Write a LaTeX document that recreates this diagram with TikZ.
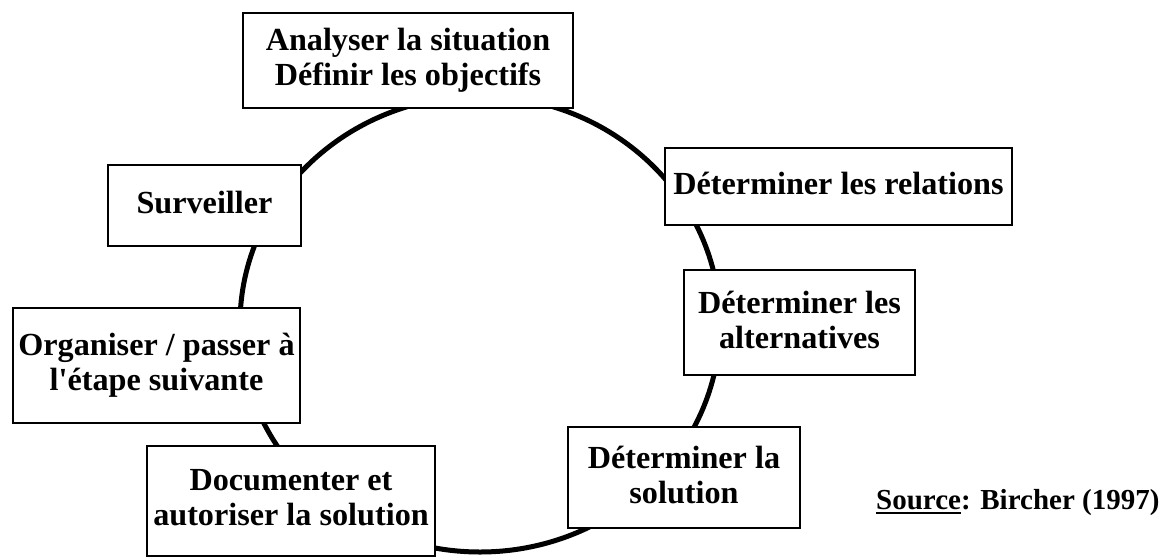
\documentclass[tikz,border=0pt]{standalone}
\usepackage{fontspec}
\setmainfont{Liberation Serif}
% same face without the TeX quote mapping, for a straight apostrophe
\newfontfamily\rawserif{Liberation Serif}
\newcommand\straightq{{\rawserif\bfseries'}}
% even strut so one- and two-line labels sit visually centred
\newcommand\stagestrut{\rule[-0.19em]{0pt}{0.85em}}
% heavier underline for the citation label
\newcommand\heavyul[1]{\setbox0\hbox{#1}\rlap{\rule[-5.2pt]{\wd0}{2.7pt}}\box0}
\begin{document}
\begin{tikzpicture}[x=1pt,y=-1pt,
  stage/.style={draw=black, line width=1.3pt, fill=white, inner sep=0pt,
    align=center, font=\bfseries\fontsize{32.2}{35}\selectfont,
    execute at begin node=\stagestrut, execute at end node=\stagestrut},
  ring/.style={draw=black, line width=5pt}]
\useasboundingbox (0,0) rectangle (1170,557);

% the cycle behind the stages
\draw[ring] (480,324) ellipse [x radius=240pt, y radius=228pt];

% stages of the process
\node[stage, minimum width=330pt, minimum height=95pt]  (analyse) at (408,60.5)
  {Analyser la situation\\Définir les objectifs};
\node[stage, minimum width=347pt, minimum height=77pt]  (relations) at (838.5,186.5)
  {Déterminer les relations};
\node[stage, minimum width=231pt, minimum height=105pt] (alternatives) at (799.5,322.5)
  {Déterminer les\\alternatives};
\node[stage, minimum width=232pt, minimum height=101pt] (solution) at (684,477.5)
  {Déterminer la\\solution};
\node[stage, minimum width=288pt, minimum height=110pt] (documenter) at (291,501)
  {Documenter et\\autoriser la solution};
\node[stage, minimum width=287pt, minimum height=115pt] (organiser) at (156.5,365.5)
  {Organiser / passer à\\l\straightq étape suivante};
\node[stage, minimum width=193pt, minimum height=81pt]  (surveiller) at (204.5,205.5)
  {Surveiller};

% citation
\node[anchor=base west, inner sep=0pt, font=\bfseries\fontsize{29}{33}\selectfont]
  (source) at (876,509) {\heavyul{Source}: Bircher (1997)};
\end{tikzpicture}
\end{document}
